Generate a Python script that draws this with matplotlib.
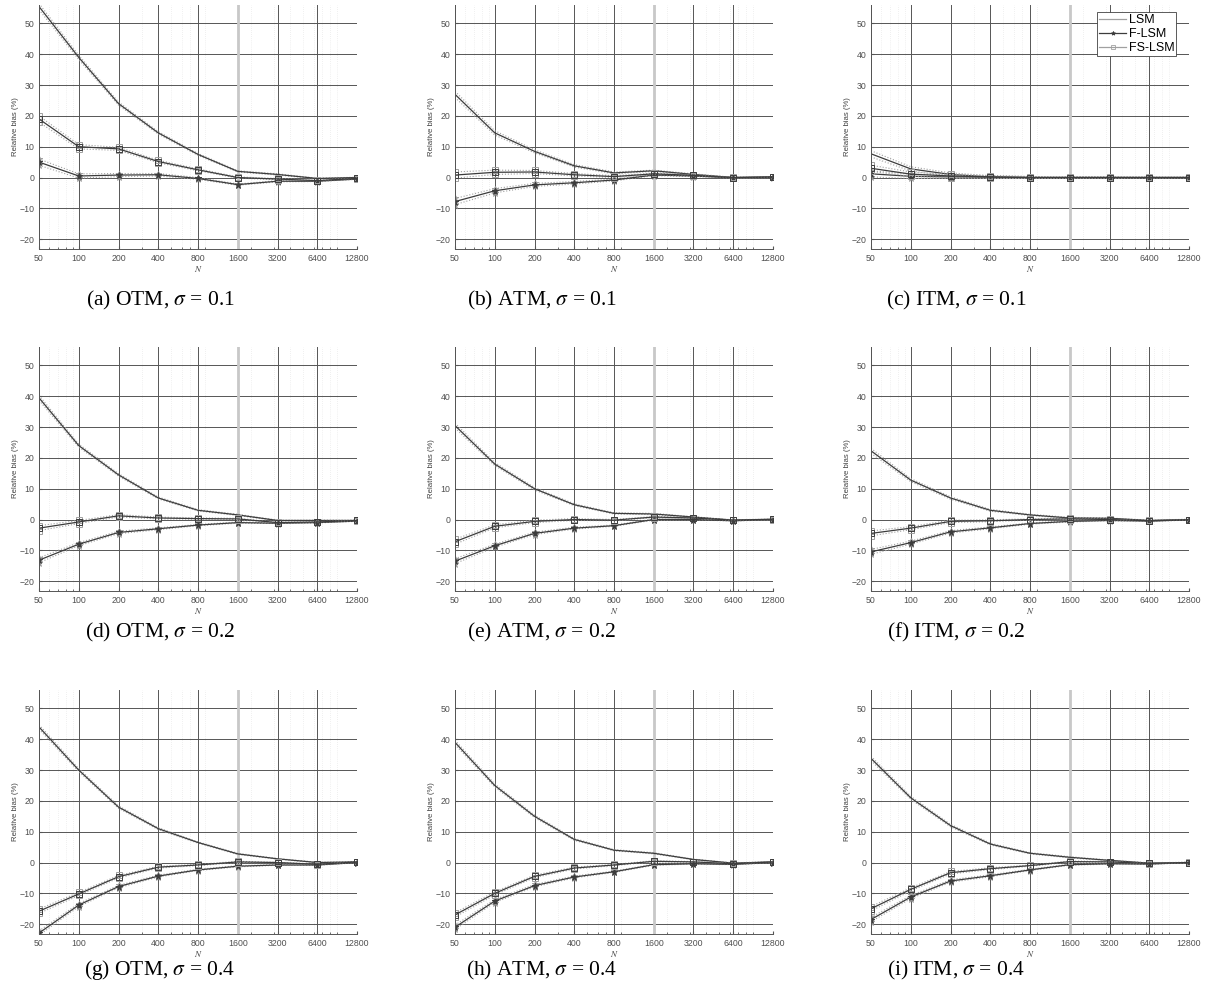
"""
Sesgo relativo (%) de LSM, F-LSM y FS-LSM frente al numero de trayectorias N,
para opciones OTM / ATM / ITM y tres volatilidades.
"""

import numpy as np
import matplotlib
matplotlib.use("Agg")
import matplotlib.pyplot as plt
from matplotlib.ticker import FixedLocator, NullFormatter, LogLocator

plt.rcParams['font.family'] = ['Liberation Sans', 'DejaVu Sans']
plt.rcParams['mathtext.fontset'] = 'stix'

# Numero de trayectorias
n_paths = [50, 100, 200, 400, 800, 1600, 3200, 6400, 12800]
n_labels = ['50', '100', '200', '400', '800', '1600', '3200', '6400', '12800']

# (a) OTM, sigma = 0.1
lsm_a = [55.5, 39.0, 24.0, 14.5, 7.5, 2.0, 1.0, -0.3, 0.0]
flsm_a = [5.0, 0.5, 0.8, 0.9, -0.3, -2.3, -1.2, -1.2, -0.5]
fslsm_a = [19.0, 10.0, 9.3, 5.2, 2.5, 0.0, -0.5, -1.0, -0.3]
# (b) ATM, sigma = 0.1
lsm_b = [27.0, 14.5, 8.5, 3.8, 1.5, 2.2, 1.0, 0.0, 0.2]
flsm_b = [-7.8, -4.3, -2.4, -1.7, -0.8, 0.8, 0.5, -0.1, 0.1]
fslsm_b = [0.8, 1.7, 1.8, 0.9, 0.3, 1.2, 0.7, 0.0, 0.2]
# (c) ITM, sigma = 0.1
lsm_c = [7.7, 2.8, 1.0, 0.2, 0.0, 0.0, 0.0, 0.0, 0.0]
flsm_c = [1.2, 0.4, 0.2, 0.1, 0.0, 0.0, 0.0, 0.0, 0.0]
fslsm_c = [3.0, 1.1, 0.5, 0.2, 0.0, 0.0, 0.0, 0.0, 0.0]
# (d) OTM, sigma = 0.2
lsm_d = [39.5, 24.0, 14.5, 7.0, 3.0, 1.5, -0.3, -0.3, -0.3]
flsm_d = [-13.2, -8.0, -4.2, -3.0, -1.8, -1.0, -1.2, -1.0, -0.5]
fslsm_d = [-2.8, -0.8, 1.2, 0.5, 0.3, 0.2, -1.0, -0.8, -0.3]
# (e) ATM, sigma = 0.2
lsm_e = [30.5, 18.0, 10.0, 4.8, 2.0, 1.8, 0.8, -0.2, 0.0]
flsm_e = [-13.5, -8.5, -4.5, -2.8, -2.0, 0.0, 0.0, -0.4, 0.0]
fslsm_e = [-7.2, -2.2, -0.6, 0.0, -0.2, 0.8, 0.5, -0.2, 0.1]
# (f) ITM, sigma = 0.2
lsm_f = [22.3, 12.8, 7.0, 3.0, 1.5, 0.5, 0.4, -0.3, 0.0]
flsm_f = [-10.5, -7.5, -4.0, -2.7, -1.3, -0.6, -0.3, -0.5, -0.1]
fslsm_f = [-4.5, -2.8, -0.6, -0.4, 0.0, 0.2, 0.0, -0.4, -0.1]
# (g) OTM, sigma = 0.4
lsm_g = [44.0, 30.0, 18.0, 11.0, 6.5, 2.8, 1.2, 0.0, 0.2]
flsm_g = [-22.9, -13.8, -7.8, -4.4, -2.4, -1.2, -0.8, -0.8, 0.0]
fslsm_g = [-15.8, -10.2, -4.6, -1.5, -0.8, 0.2, 0.0, -0.6, 0.2]
# (h) ATM, sigma = 0.4
lsm_h = [39.0, 25.0, 15.0, 7.5, 4.0, 3.0, 1.0, -0.2, 0.2]
flsm_h = [-21.0, -12.5, -7.5, -4.7, -3.0, -0.7, -0.4, -0.6, 0.0]
fslsm_h = [-17.0, -10.0, -4.5, -1.8, -0.8, 0.4, 0.2, -0.4, 0.2]
# (i) ITM, sigma = 0.4
lsm_i = [33.8, 21.0, 12.0, 6.0, 3.0, 1.7, 0.7, -0.2, 0.0]
flsm_i = [-18.5, -11.2, -6.0, -4.3, -2.4, -0.7, -0.4, -0.5, 0.0]
fslsm_i = [-15.0, -8.7, -3.3, -2.0, -1.0, 0.3, 0.2, -0.3, 0.0]

# Semiancho aproximado de las bandas de confianza (lineas punteadas)
band_s01 = [1.0, 0.7, 0.5, 0.4, 0.3, 0.2, 0.2, 0.1, 0.1]
band_s02 = [0.8, 0.5, 0.4, 0.3, 0.2, 0.2, 0.1, 0.1, 0.1]
band_s04 = [0.7, 0.5, 0.4, 0.3, 0.2, 0.2, 0.1, 0.1, 0.1]

letters = ['a', 'b', 'c', 'd', 'e', 'f', 'g', 'h', 'i']
moneyness = ['OTM', 'ATM', 'ITM']
sigmas = ['0.1', '0.2', '0.4']

panels = [
    (lsm_a, flsm_a, fslsm_a, band_s01), (lsm_b, flsm_b, fslsm_b, band_s01),
    (lsm_c, flsm_c, fslsm_c, band_s01), (lsm_d, flsm_d, fslsm_d, band_s02),
    (lsm_e, flsm_e, fslsm_e, band_s02), (lsm_f, flsm_f, fslsm_f, band_s02),
    (lsm_g, flsm_g, fslsm_g, band_s04), (lsm_h, flsm_h, fslsm_h, band_s04),
    (lsm_i, flsm_i, fslsm_i, band_s04),
]

W, H = 1209, 1008
col_left = [39, 455, 871]
row_top = [5, 347, 690]
ax_w, ax_h = 318, 244
caption_x = [160, 542, 956]
caption_y = [300, 632, 970]

DARK = '#3c3c3c'
LIGHT = '#a0a0a0'


def draw_series(ax, y, band, marker, label, main_color, legend_color):
    y = np.array(y)
    band = np.array(band)
    if marker is None:
        kw = {}
    else:
        kw = dict(marker=marker, markersize=5 if marker == '*' else 4.5,
                  markerfacecolor='none' if marker == 's' else DARK,
                  markeredgewidth=0.7)
    light_kw = {**kw, 'markeredgecolor': LIGHT} if kw else {}
    dark_kw = {**kw, 'markeredgecolor': DARK} if kw else {}
    ax.plot(n_paths, y + band, ':', color=LIGHT, lw=0.8, **light_kw)
    ax.plot(n_paths, y - band, ':', color=LIGHT, lw=0.8, **light_kw)
    ax.plot(n_paths, y, '-', color=main_color, lw=0.9, **dark_kw)
    # handle solo para la leyenda
    h, = ax.plot([], [], '-', color=legend_color, lw=0.9, label=label,
                 marker=marker, markersize=3 if marker else 0,
                 markerfacecolor='none' if marker == 's' else legend_color,
                 markeredgecolor=legend_color, markeredgewidth=0.6)
    return h


fig = plt.figure(figsize=(W / 100, H / 100), dpi=100)

for k, (lsm, flsm, fslsm, band) in enumerate(panels):
    r, c = divmod(k, 3)
    ax = fig.add_axes([col_left[c] / W, 1 - (row_top[r] + ax_h) / H,
                       ax_w / W, ax_h / H])
    ax.set_xscale('log')
    ax.set_xlim(50, 12800)
    ax.set_ylim(-23.2, 56)

    # rejilla estilo MATLAB
    ax.xaxis.set_major_locator(FixedLocator(n_paths))
    ax.set_xticklabels(n_labels)
    ax.xaxis.set_minor_locator(LogLocator(base=10, subs=np.arange(2, 10)))
    ax.xaxis.set_minor_formatter(NullFormatter())
    ax.set_yticks([-20, -10, 0, 10, 20, 30, 40, 50])
    ax.grid(True, which='major', color='#555555', lw=0.7)
    ax.grid(True, which='minor', axis='x', color='#e2e2e2', lw=0.5, ls=(0, (1, 2)))
    ax.axvline(1600, color='#c8c8c8', lw=2.0, zorder=1)
    ax.set_axisbelow(True)

    for side in ['top', 'right']:
        ax.spines[side].set_visible(False)
    for side in ['left', 'bottom']:
        ax.spines[side].set_color('#555555')
        ax.spines[side].set_linewidth(0.7)
    ax.tick_params(which='both', direction='in', labelsize=6.3,
                   colors='#555555', labelcolor='#505050', length=2)
    ax.tick_params(which='minor', length=1.2)

    ax.set_ylabel('Relative bias (%)', fontsize=5.6, color='#404040', labelpad=0)
    ax.set_xlabel(r'$N$', fontsize=6.5, color='#404040', labelpad=1)

    h1 = draw_series(ax, lsm, band, None, 'LSM', DARK, LIGHT)
    h2 = draw_series(ax, flsm, band, '*', 'F-LSM', DARK, DARK)
    h3 = draw_series(ax, fslsm, band, 's', 'FS-LSM', DARK, LIGHT)

    if k == 2:
        leg = ax.legend(handles=[h1, h2, h3], loc='upper right', fontsize=9,
                        fancybox=False, framealpha=1, edgecolor='#404040',
                        borderpad=0.15, labelspacing=0.15, handlelength=2.2,
                        handletextpad=0.2, borderaxespad=0.0,
                        bbox_to_anchor=(0.96, 0.97))
        leg.get_frame().set_linewidth(0.6)

    caption = '(%s) %s, $\\sigma$ = %s' % (letters[k], moneyness[c], sigmas[r])
    fig.text(caption_x[c] / W, 1 - caption_y[r] / H, caption, ha='center',
             va='center', fontsize=15.5, family=['Liberation Serif', 'DejaVu Serif'])

fig.savefig('out.png', dpi=100)
